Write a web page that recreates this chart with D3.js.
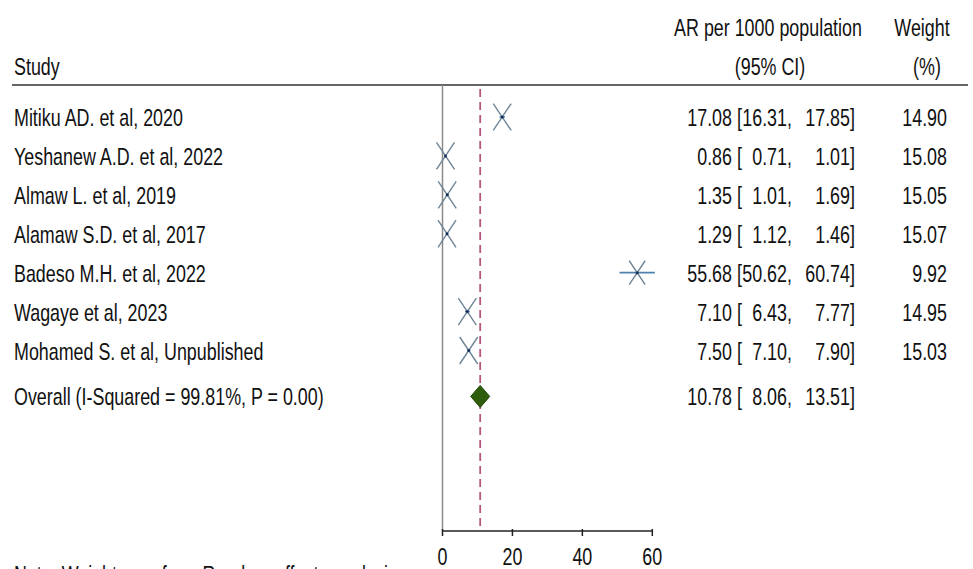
<!DOCTYPE html>
<html>
<head>
<meta charset="utf-8">
<script src="https://cdn.jsdelivr.net/npm/d3@7"></script>
<style>
  body { margin: 0; background: #fff; }
  text { font-family: "Liberation Sans", Arial, sans-serif; font-size: 24px; fill: #111; }
</style>
</head>
<body>
<div id="chart"></div>
<script>
// study rows
var studies = [
	"Mitiku AD. et al, 2020",
	"Yeshanew A.D. et al, 2022",
	"Almaw L. et al, 2019",
	"Alamaw S.D. et al, 2017",
	"Badeso M.H. et al, 2022",
	"Wagaye et al, 2023",
	"Mohamed S. et al, Unpublished"
];
var estimates = [17.08, 0.86, 1.35, 1.29, 55.68, 7.10, 7.50];
var lower = [16.31, 0.71, 1.01, 1.12, 50.62, 6.43, 7.10];
var upper = [17.85, 1.01, 1.69, 1.46, 60.74, 7.77, 7.90];
var weights = [14.90, 15.08, 15.05, 15.07, 9.92, 14.95, 15.03];

var overallLabel = "Overall (I-Squared = 99.81%, P = 0.00)";
var overallEst = 10.78, overallLo = 8.06, overallHi = 13.51;

var xTicks = [0, 20, 40, 60];

var W = 973, H = 569;
var svg = d3.select('#chart').append('svg')
	.attr('width', W).attr('height', H);

var x = d3.scaleLinear().domain([0, 60]).range([442.5, 652.3]);
var y = d3.scaleLinear().domain([0, 6]).range([117, 350.5]);
var overallY = y(7.18);
var axisTop = 85, axisY = 531;

// condensed text helper (the original uses a narrow face)
function label(g, tx, ty, str, anchor){
	return g.append('text')
		.attr('transform', 'translate(' + tx + ',' + ty + ') scale(0.745,1)')
		.attr('text-anchor', anchor || 'start')
		.text(str);
}

// estimate [lo, hi] columns
function ciText(g, cy, est, lo, hi){
	label(g, 732, cy + 9, est.toFixed(2), 'end');
	label(g, 737, cy + 9, "[");
	label(g, 787, cy + 9, lo.toFixed(2), 'end');
	label(g, 787, cy + 9, ",");
	label(g, 850, cy + 9, hi.toFixed(2), 'end');
	label(g, 850, cy + 9, "]");
}

// headers
label(svg, 14, 75, "Study");
label(svg, 768, 36, "AR per 1000 population", 'middle');
label(svg, 770, 75, "(95% CI)", 'middle');
label(svg, 922, 36, "Weight", 'middle');
label(svg, 927, 75, "(%)", 'middle');

svg.append('line')
	.attr('x1', 12).attr('x2', 968)
	.attr('y1', axisTop).attr('y2', axisTop)
	.style('stroke', '#333').style('stroke-width', 1.6);

// zero line
svg.append('line')
	.attr('x1', x(0)).attr('x2', x(0))
	.attr('y1', axisTop).attr('y2', axisY)
	.style('stroke', '#8a8a8a').style('stroke-width', 1.5);

// overall dashed line
svg.append('line')
	.attr('x1', x(overallEst)).attr('x2', x(overallEst))
	.attr('y1', axisTop + 4).attr('y2', axisY)
	.style('stroke', '#b5577f').style('stroke-width', 1.8)
	.style('stroke-dasharray', '8,5');

// x axis
var gAxis = svg.append('g')
	.attr('transform', 'translate(0,' + axisY + ')');
gAxis.append('line')
	.attr('x1', x(0)).attr('x2', x(60))
	.style('stroke', '#222').style('stroke-width', 1.5);
gAxis.selectAll('.tick')
	.data(xTicks).enter().append('line')
	.attr('x1', d => x(d)).attr('x2', d => x(d))
	.attr('y1', -2).attr('y2', 5)
	.style('stroke', '#222').style('stroke-width', 1.5);
xTicks.forEach(function(t){
	label(gAxis, x(t), 34, String(t), 'middle');
});

// study rows
var rows = studies.map(function(s, i){
	return { name: s, est: estimates[i], lo: lower[i], hi: upper[i], w: weights[i], i: i };
});

var gRows = svg.append('g').attr('class', 'rows');
rows.forEach(function(d){
	var cy = y(d.i);
	label(gRows, 14, cy + 9, d.name);
	ciText(gRows, cy, d.est, d.lo, d.hi);
	label(gRows, 947, cy + 9, d.w.toFixed(2), 'end');

	var k = Math.pow(d.w / 15, 0.3);
	var hw = 9 * k, hh = 13.5 * k;
	var cx = x(d.est);
	// confidence interval
	gRows.append('line')
		.attr('x1', x(d.lo)).attr('x2', x(d.hi))
		.attr('y1', cy).attr('y2', cy)
		.style('stroke', '#4f83ad').style('stroke-width', 1.6);
	// weight marker
	gRows.append('path')
		.attr('d', 'M' + (cx - hw) + ',' + (cy - hh) + 'L' + (cx + hw) + ',' + (cy + hh) +
			'M' + (cx - hw) + ',' + (cy + hh) + 'L' + (cx + hw) + ',' + (cy - hh))
		.style('stroke', '#6f8596').style('stroke-width', 1.4).style('fill', 'none');
	gRows.append('circle')
		.attr('cx', cx).attr('cy', cy).attr('r', 1.5)
		.attr('fill', '#12305a');
});

// overall
label(svg, 14, overallY + 9, overallLabel);
ciText(svg, overallY, overallEst, overallLo, overallHi);
svg.append('path')
	.attr('d', 'M' + x(overallLo) + ',' + overallY +
		'L' + x(overallEst) + ',' + (overallY - 11) +
		'L' + x(overallHi) + ',' + overallY +
		'L' + x(overallEst) + ',' + (overallY + 11) + 'Z')
	.style('fill', '#2e5d0c').style('stroke', '#24480a').style('stroke-width', 1);

// footnote, mostly cut off at the bottom edge as in the original
label(svg, 14, 583, "Note: Weights are from Random effects analysis");
</script>
</body>
</html>
